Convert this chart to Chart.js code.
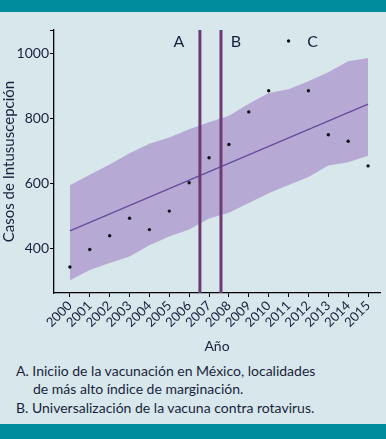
<!DOCTYPE html>
<html>
<head>
<meta charset="utf-8">
<script src="https://cdn.jsdelivr.net/npm/chart.js@4.4.0/dist/chart.umd.min.js"></script>
<style>
  body { margin: 0; background: #d8e7ec; width: 386px; height: 439px; overflow: hidden; position: relative; font-family: Lato, sans-serif; color: #1a1f3d; }
  .bar { position: absolute; left: 0; width: 386px; background: #008c9c; }
  #chart { position: absolute; left: 0; top: 0; }
  .notes { position: absolute; left: 16px; top: 362px; font-size: 14px; line-height: 18.4px; }
  .notes .indent { padding-left: 17px; }
</style>
</head>
<body>
<div class="bar" style="top:0;height:12px"></div>
<canvas id="chart" width="386" height="360"></canvas>
<div class="notes">
  <div>A. Iniciio de la vacunación en México, localidades</div>
  <div class="indent">de más alto índice de marginación.</div>
  <div>B. Universalización de la vacuna contra rotavirus.</div>
</div>
<div class="bar" style="top:424px;height:15px"></div>
<script>
// años y casos observados
let years = [2000, 2001, 2002, 2003, 2004, 2005, 2006, 2007, 2008, 2009, 2010, 2011, 2012, 2013, 2014, 2015]
let cases = [343, 397, 439, 493, 458, 515, 602, 679, 720, 820, 885, 1038, 885, 750, 730, 654]
// banda de confianza
let bandLow  = [302, 334, 355, 375, 410, 437, 458, 492, 510, 540, 570, 595, 620, 655, 665, 685]
let bandHigh = [594, 627, 658, 693, 722, 741, 767, 788, 808, 845, 878, 890, 914, 942, 976, 986]
// tendencia
let trendYears = [2000, 2015]
let trendValues = [454, 844]
// eventos
let eventA = 2006.54
let eventB = 2007.6
let yTicks = [400, 600, 800, 1000]
let yMin = 263
let yMax = 1072

const ink = '#1a1f3d'
const toXY = (xs, ys) => xs.map((x, i) => ({x: x, y: ys[i]}))

const labelsPlugin = {
  id: 'eventLabels',
  afterDatasetsDraw(chart) {
    const ctx = chart.ctx
    const xs = chart.scales.x, ys = chart.scales.y
    const ty = ys.getPixelForValue(yMax) + 12
    ctx.save()
    ctx.fillStyle = ink
    ctx.font = '16px Lato'
    ctx.textBaseline = 'middle'
    ctx.textAlign = 'center'
    ctx.fillText('A', xs.getPixelForValue(eventA) - 21, ty)
    ctx.fillText('B', xs.getPixelForValue(eventB) + 15, ty)
    ctx.fillText('C', xs.getPixelForValue(2011) + 24, ty)
    ctx.restore()
  }
}

new Chart(document.getElementById('chart'), {
  type: 'scatter',
  data: {
    datasets: [
      { data: toXY(years, bandLow), order: 5, showLine: true, borderWidth: 0, pointRadius: 0, fill: false },
      { data: toXY(years, bandHigh), order: 4, showLine: true, borderWidth: 0, pointRadius: 0, fill: '-1', backgroundColor: '#b6a9d4' },
      { data: toXY(trendYears, trendValues), order: 3, showLine: true, borderColor: '#6a4a9c', borderWidth: 1.3, pointRadius: 0 },
      { data: toXY(years, cases), order: 1, pointRadius: 1.7, pointBackgroundColor: '#111', pointBorderWidth: 0 },
      { data: toXY([eventA, eventA], [yMin, yMax]), order: 2, showLine: true, borderColor: '#6d3b72', borderWidth: 3, pointRadius: 0 },
      { data: toXY([eventB, eventB], [yMin, yMax]), order: 2, showLine: true, borderColor: '#6d3b72', borderWidth: 3, pointRadius: 0 }
    ]
  },
  options: {
    responsive: false,
    animation: false,
    layout: { padding: { left: 0, right: 6, top: 30, bottom: 0 } },
    plugins: { legend: { display: false }, tooltip: { enabled: false } },
    scales: {
      x: {
        type: 'linear',
        min: 1999.2,
        max: 2015.6,
        afterBuildTicks: (s) => { s.ticks = years.map(v => ({value: v})) },
        afterFit: (s) => { s.height = 67 },
        grid: { display: true, drawOnChartArea: false, drawTicks: true, tickLength: 4, color: '#000' },
        border: { display: true, color: '#000', width: 1.3 },
        ticks: { autoSkip: false, minRotation: 45, maxRotation: 45, padding: 1, color: ink, font: { family: 'Lato', size: 13 }, callback: v => String(v) },
        title: { display: true, text: 'Año', color: ink, font: { family: 'Lato', size: 14 }, padding: { top: 0, bottom: 5 } }
      },
      y: {
        min: yMin,
        max: yMax,
        afterBuildTicks: (s) => { s.ticks = yTicks.map(v => ({value: v})).concat([{value: yMax}]) },
        afterFit: (s) => { s.width = 54 },
        grid: { display: true, drawOnChartArea: false, drawTicks: true, tickLength: 4, color: '#000' },
        border: { display: true, color: '#000', width: 1.3 },
        ticks: { autoSkip: false, padding: 1, color: ink, font: { family: 'Lato', size: 14 }, callback: v => yTicks.includes(v) ? String(v) : '' },
        title: { display: true, text: 'Casos de Intususcepción', color: ink, font: { family: 'Lato', size: 15 }, padding: { top: 0, bottom: 0 } }
      }
    }
  },
  plugins: [labelsPlugin]
});
</script>
</body>
</html>
